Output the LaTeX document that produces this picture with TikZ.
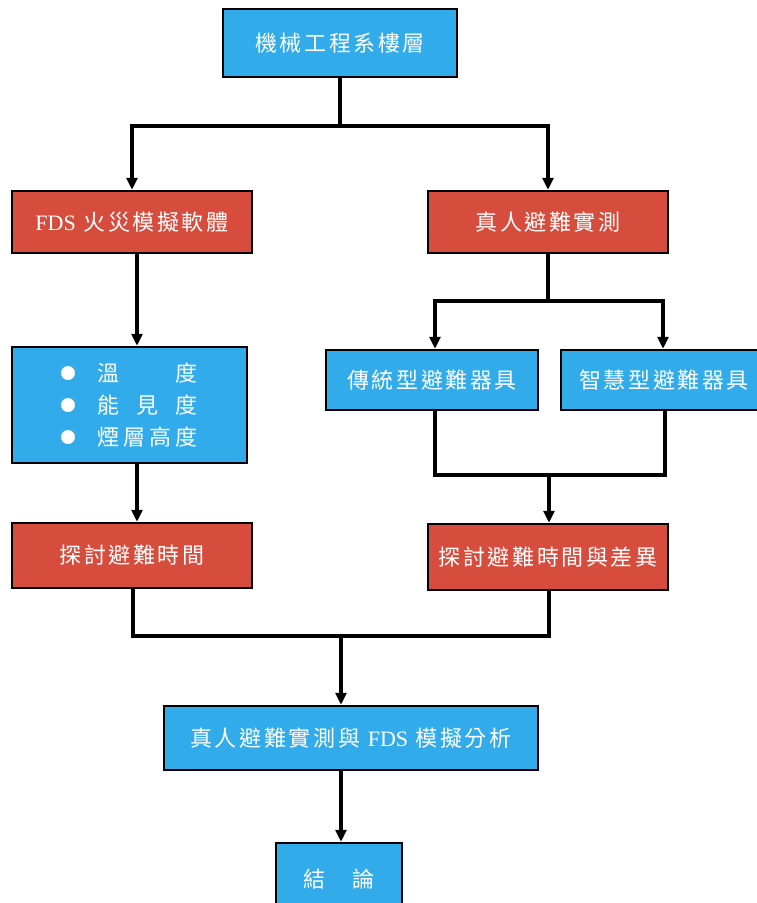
\documentclass[tikz,border=0pt]{standalone}
\usepackage{fontspec}
\usetikzlibrary{arrows.meta}
\setmainfont{Liberation Serif}
\newfontfamily\cjk[LetterSpace=12]{Noto Sans CJK TC}
\newfontfamily\cjkn{Noto Sans CJK TC}
\newfontfamily\latin{Liberation Serif}
\definecolor{boxblue}{HTML}{31ABEA}
\definecolor{boxred}{HTML}{D64D3E}
\tikzset{
  basebox/.style={draw=black, line width=2.5pt, text=white, inner sep=0pt,
    font=\fontsize{22}{26}\selectfont\cjk},
  bluebox/.style={basebox, fill=boxblue},
  redbox/.style={basebox, fill=boxred},
  conn/.style={line width=3.2pt, line join=miter, line cap=rect},
  arr/.style={conn, line cap=butt, -{Triangle[length=12pt,width=11pt]}},
  listtxt/.style={text=white, inner sep=0pt, anchor=west, font=\fontsize{22}{26}\selectfont\cjkn},
  dot/.style={circle, fill=white, inner sep=0pt, minimum size=14pt}
}
\begin{document}
\begin{tikzpicture}[x=1pt, y=-1pt]
\useasboundingbox (0,0) rectangle (757,903);
% boxes
\node[bluebox, minimum width=234pt, minimum height=68pt] (b1) at (340,43) {機械工程系樓層};
\node[redbox, minimum width=240pt, minimum height=62pt] (b2) at (132,222) {{\latin FDS} 火災模擬軟體};
\node[redbox, minimum width=240pt, minimum height=62pt] (b3) at (548,222) {真人避難實測};
\node[bluebox, minimum width=235pt, minimum height=116pt] (b4) at (129.5,405) {};
\node[bluebox, minimum width=212pt, minimum height=60pt] (b5) at (432,380) {傳統型避難器具};
\node[bluebox, minimum width=206pt, minimum height=60pt] (b6) at (664,380) {智慧型避難器具};
\node[redbox, minimum width=240pt, minimum height=65pt] (b7) at (132,555.5) {探討避難時間};
\node[redbox, minimum width=240pt, minimum height=66pt] (b8) at (548,557) {探討避難時間與差異};
\node[bluebox, minimum width=374pt, minimum height=64pt] (b9) at (351,738) {真人避難實測與 {\latin FDS} 模擬分析};
\node[bluebox, minimum width=126pt, minimum height=72pt] (b10) at (339,879) {結　論};
% list inside b4
\node[dot] (d1) at (68,373) {};
\node[dot] (d2) at (68,405) {};
\node[dot] (d3) at (68,437) {};
\node[listtxt] (t1) at (97,373) {\makebox[100pt][s]{溫\hfill{}度}};
\node[listtxt] (t2) at (97,405) {\makebox[100pt][s]{能\hfill{}見\hfill{}度}};
\node[listtxt] (t3) at (97,437) {\makebox[100pt][s]{煙\hfill{}層\hfill{}高\hfill{}度}};
% junction coordinates
\coordinate (j1) at (340,126);
\coordinate (j2) at (548,301);
\coordinate (j3) at (549,475);
\coordinate (j4) at (341,636);
\coordinate (xA) at (137,0);
\coordinate (xB) at (435,0);
\coordinate (xC) at (663,0);
\coordinate (xD) at (665,0);
\coordinate (xE) at (133,0);
\coordinate (xF) at (549,0);
% connectors
\draw[conn] (b1.south) -- (j1);
\draw[arr] (j1) -| (b2.north);
\draw[arr] (j1) -| (b3.north);
\draw[arr] (b2.south -| xA) -- (b4.north -| xA);
\draw[conn] (b3.south) -- (j2);
\draw[arr] (j2) -| (b5.north -| xB);
\draw[arr] (j2) -| (b6.north -| xC);
\draw[conn] (b5.south -| xB) |- (j3) -| (b6.south -| xD);
\draw[arr] (j3) -- (b8.north -| j3);
\draw[arr] (b4.south -| xA) -- (b7.north -| xA);
\draw[conn] (b7.south -| xE) |- (j4) -| (b8.south -| xF);
\draw[arr] (j4) -- (b9.north -| j4);
\draw[arr] (b9.south -| j4) -- (b10.north -| j4);
\end{tikzpicture}
\end{document}
